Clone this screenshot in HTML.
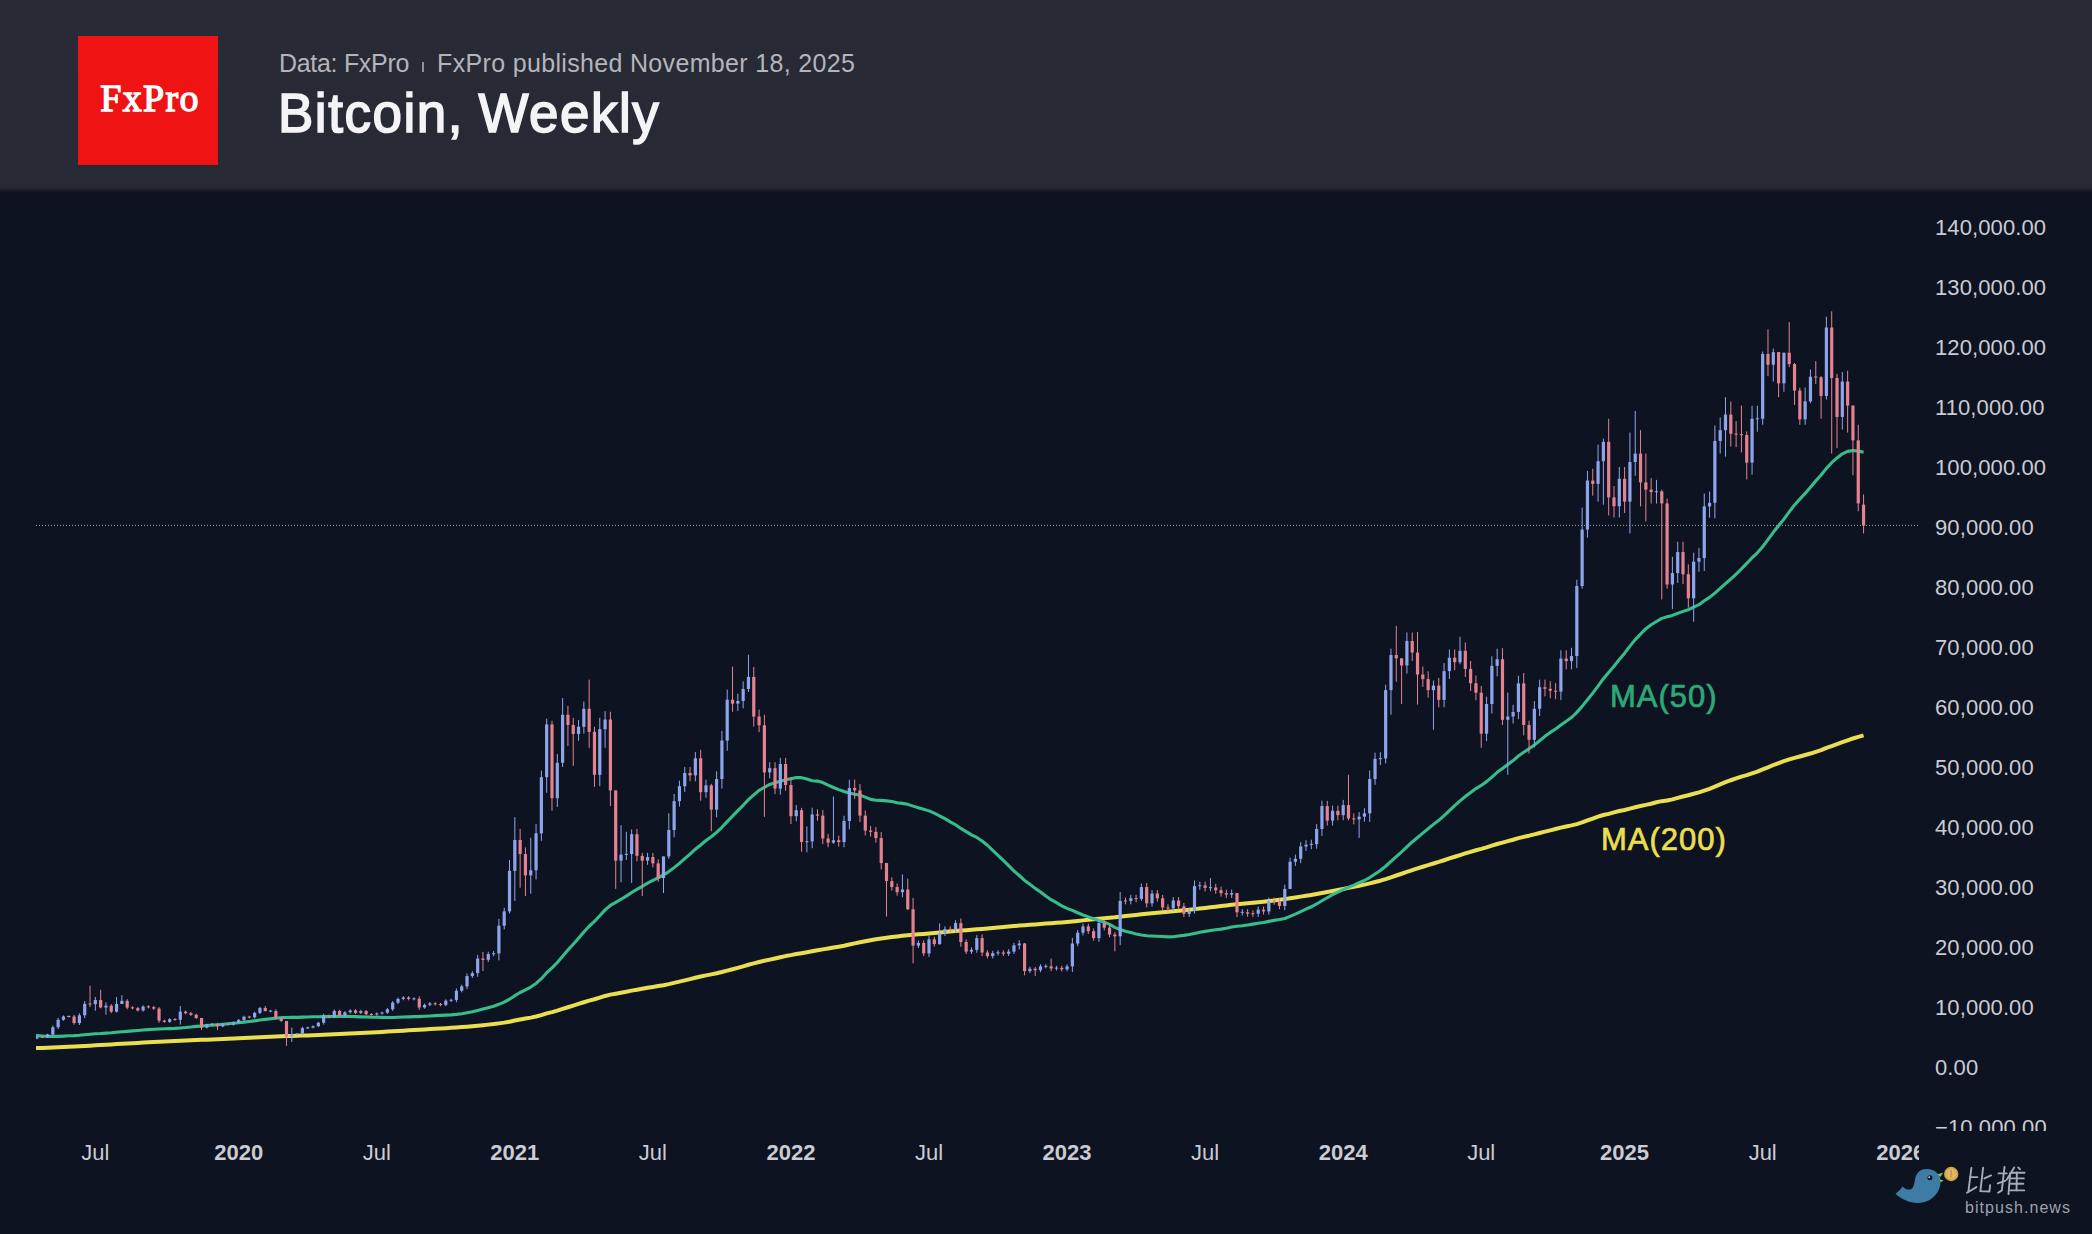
<!DOCTYPE html>
<html><head><meta charset="utf-8">
<style>
html,body{margin:0;padding:0;}
body{width:2092px;height:1234px;overflow:hidden;background:#0e1322;position:relative;font-family:"Liberation Sans",sans-serif;}
#hdr{position:absolute;left:0;top:0;width:2092px;height:192px;background:linear-gradient(#282a36 0px,#272935 187px,#13151f 192px);}
#shadow{position:absolute;left:0;top:192px;width:2092px;height:6px;background:linear-gradient(#0e1120,#0e1322);}
#logo{position:absolute;left:78px;top:36px;width:140px;height:129px;background:#ef1313;}
#logo span{position:absolute;left:2px;width:140px;top:-2.3px;line-height:129px;text-align:center;color:#fff;font-family:"Liberation Serif",serif;font-weight:normal;font-size:38px;letter-spacing:1.3px;-webkit-text-stroke:1.3px #fff;}
#sub{position:absolute;left:279px;top:47px;font-size:25px;color:#b3b5bc;white-space:nowrap;line-height:32px;}
#sub .sep{display:inline-block;width:28px;height:10px;}
#sep{position:absolute;left:422px;top:62px;width:1.6px;height:10px;background:#8f929a;}
#sub .a{letter-spacing:-0.3px;}
#sub .b{letter-spacing:0.33px;}
#title{position:absolute;left:277.8px;transform:scaleX(0.945);letter-spacing:1.65px;transform-origin:0 0;top:80.8px;font-size:56px;font-weight:normal;word-spacing:-2px;-webkit-text-stroke:1.7px #f4f4f6;color:#f4f4f6;white-space:nowrap;line-height:64px;}
svg{position:absolute;left:0;top:0;}
</style></head><body>
<div id="hdr"></div>
<div id="shadow"></div>
<div id="logo"><span>FxPro</span></div>
<div id="sub"><span class="a">Data: FxPro</span><span class="sep"></span><span class="b">FxPro published November 18, 2025</span></div>
<div id="sep"></div>
<div id="title">Bitcoin, Weekly</div>
<svg width="2092" height="1234" viewBox="0 0 2092 1234">
<defs>
<clipPath id="plot"><rect x="36" y="196" width="1882" height="935"/></clipPath>
<clipPath id="pax"><rect x="1918" y="196" width="174" height="935"/></clipPath>
<clipPath id="tax"><rect x="0" y="1131" width="1919" height="60"/></clipPath>
</defs>
<g clip-path="url(#plot)">
<line x1="36" y1="525.4" x2="1918" y2="525.4" stroke="#9a9ea8" stroke-width="1" stroke-dasharray="1 2"/>
<polyline points="36,1048.03 36.92,1048.03 42.23,1047.88 47.54,1047.71 52.85,1047.51 58.16,1047.27 63.47,1047.02 68.78,1046.76 74.09,1046.54 79.40,1046.28 84.71,1045.96 90.02,1045.64 95.33,1045.31 100.64,1045.01 105.95,1044.70 111.26,1044.42 116.57,1044.10 121.88,1043.77 127.19,1043.47 132.50,1043.17 137.81,1042.89 143.12,1042.59 148.43,1042.29 153.74,1042.00 159.05,1041.77 164.36,1041.54 169.67,1041.31 174.98,1041.07 180.29,1040.80 185.60,1040.53 190.91,1040.28 196.22,1040.03 201.53,1039.84 206.84,1039.63 212.15,1039.41 217.46,1039.21 222.77,1039.00 228.08,1038.79 233.39,1038.57 238.70,1038.34 244.01,1038.09 249.32,1037.84 254.63,1037.58 259.94,1037.28 265.25,1037.01 270.56,1036.73 275.87,1036.49 281.18,1036.26 286.49,1036.12 291.80,1035.96 297.11,1035.80 302.42,1035.61 307.73,1035.42 313.04,1035.23 318.35,1035.02 323.66,1034.77 328.97,1034.53 334.28,1034.26 339.59,1034.01 344.90,1033.75 350.21,1033.47 355.52,1033.21 360.83,1032.94 366.14,1032.68 371.45,1032.43 376.76,1032.17 382.07,1031.90 387.38,1031.62 392.69,1031.31 398.00,1030.98 403.31,1030.64 408.62,1030.31 413.93,1029.98 419.24,1029.69 424.55,1029.40 429.86,1029.09 435.17,1028.79 440.48,1028.49 445.79,1028.17 451.10,1027.85 456.41,1027.49 461.72,1027.10 467.03,1026.66 472.34,1026.21 477.65,1025.68 482.96,1025.17 488.27,1024.62 493.58,1024.07 498.89,1023.39 504.20,1022.63 509.51,1021.68 514.82,1020.56 520.13,1019.52 525.44,1018.59 530.75,1017.63 536.06,1016.49 541.37,1015.06 546.68,1013.38 551.99,1012.07 557.30,1010.59 562.61,1008.88 567.92,1007.22 573.23,1005.60 578.54,1003.96 583.85,1002.23 589.16,1000.63 594.47,999.23 599.78,997.61 605.09,995.94 610.40,994.62 615.71,993.66 621.02,992.68 626.33,991.71 631.64,990.65 636.95,989.71 642.26,988.78 647.57,987.84 652.88,986.94 658.19,986.10 663.50,985.17 668.81,984.11 674.12,982.92 679.43,981.67 684.74,980.36 690.05,979.08 695.36,977.73 700.67,976.56 705.98,975.38 711.29,974.38 716.60,973.28 721.91,972.03 727.22,970.63 732.53,969.24 737.84,967.82 743.15,966.32 748.46,964.74 753.77,963.34 759.08,961.96 764.39,960.80 769.70,959.59 775.01,958.47 780.32,957.23 785.63,956.09 790.94,955.10 796.25,954.07 801.56,953.20 806.87,952.32 812.18,951.30 817.49,950.27 822.80,949.36 828.11,948.48 833.42,947.58 838.73,946.71 844.04,945.72 849.35,944.53 854.66,943.37 859.97,942.31 865.28,941.31 870.59,940.31 875.90,939.34 881.21,938.51 886.52,937.77 891.83,937.08 897.14,936.44 902.45,935.75 907.76,935.14 913.07,934.72 918.38,934.30 923.69,933.94 929.00,933.48 934.31,933.05 939.62,932.58 944.93,932.08 950.24,931.58 955.55,931.04 960.86,930.60 966.17,930.20 971.48,929.80 976.79,929.33 982.10,928.92 987.41,928.47 992.72,928.01 998.03,927.54 1003.34,927.06 1008.65,926.60 1013.96,926.10 1019.27,925.59 1024.58,925.21 1029.89,924.81 1035.20,924.42 1040.51,924.01 1045.82,923.61 1051.13,923.22 1056.44,922.82 1061.75,922.44 1067.06,922.04 1072.37,921.54 1077.68,920.97 1082.99,920.38 1088.30,919.85 1093.61,919.35 1098.92,918.78 1104.23,918.23 1109.54,917.73 1114.85,917.27 1120.16,916.68 1125.47,916.10 1130.78,915.51 1136.09,914.89 1141.40,914.25 1146.71,913.75 1152.02,913.19 1157.33,912.68 1162.64,912.18 1167.95,911.70 1173.26,911.14 1178.57,910.65 1183.88,910.22 1189.19,909.73 1194.50,909.12 1199.81,908.50 1205.12,907.90 1210.43,907.31 1215.74,906.71 1221.05,906.08 1226.36,905.44 1231.67,904.81 1236.98,904.27 1242.29,903.78 1247.60,903.28 1252.91,902.77 1258.22,902.23 1263.53,901.65 1268.84,901.03 1274.15,900.42 1279.46,899.82 1284.77,899.14 1290.08,898.33 1295.39,897.51 1300.70,896.64 1306.01,895.78 1311.32,894.92 1316.63,894.00 1321.94,892.99 1327.25,892.04 1332.56,891.03 1337.87,890.02 1343.18,888.94 1348.49,887.85 1353.80,886.78 1359.11,885.69 1364.42,884.62 1369.73,883.37 1375.04,882.04 1380.35,880.71 1385.66,879.09 1390.97,877.28 1396.28,875.52 1401.59,873.77 1406.90,871.91 1412.21,870.12 1417.52,868.43 1422.83,866.77 1428.14,865.15 1433.45,863.50 1438.76,861.93 1444.07,860.23 1449.38,858.47 1454.69,856.77 1460.00,855.03 1465.31,853.38 1470.62,851.80 1475.93,850.27 1481.24,848.91 1486.55,847.40 1491.86,845.71 1497.17,843.99 1502.48,842.56 1507.79,841.14 1513.10,839.70 1518.41,838.17 1523.72,836.86 1529.03,835.68 1534.34,834.35 1539.65,833.00 1544.96,831.64 1550.27,830.33 1555.58,829.02 1560.89,827.68 1566.20,826.43 1571.51,825.36 1576.82,824.09 1582.13,822.46 1587.44,820.49 1592.75,818.56 1598.06,816.70 1603.37,815.02 1608.68,813.89 1613.99,812.43 1619.30,811.01 1624.61,809.94 1629.92,808.63 1635.23,807.22 1640.54,806.00 1645.85,804.91 1651.16,803.71 1656.47,802.29 1661.78,801.16 1667.09,800.49 1672.40,799.40 1677.71,797.86 1683.02,796.45 1688.33,795.18 1693.64,793.81 1698.95,792.32 1704.26,790.55 1709.57,788.78 1714.88,786.67 1720.19,784.43 1725.50,782.22 1730.81,780.24 1736.12,778.40 1741.43,776.65 1746.74,775.10 1752.05,773.31 1757.36,771.62 1762.67,769.42 1767.98,767.32 1773.29,765.03 1778.60,763.06 1783.91,761.12 1789.22,759.44 1794.53,757.87 1799.84,756.46 1805.15,755.03 1810.46,753.53 1815.77,751.83 1821.08,750.18 1826.39,747.96 1831.70,746.01 1837.01,744.15 1842.32,742.24 1847.63,740.34 1852.94,738.46 1858.25,736.93 1863.56,735.34" fill="none" stroke="#e9df50" stroke-width="4" stroke-linejoin="round"/>
<polyline points="36,1035.63 36.92,1035.63 42.23,1036.04 47.54,1036.34 52.85,1036.39 58.16,1036.33 63.47,1036.09 68.78,1035.81 74.09,1035.63 79.40,1035.32 84.71,1034.82 90.02,1034.29 95.33,1033.80 100.64,1033.55 105.95,1033.12 111.26,1032.73 116.57,1032.21 121.88,1031.69 127.19,1031.34 132.50,1030.88 137.81,1030.49 143.12,1030.04 148.43,1029.60 153.74,1029.19 159.05,1028.99 164.36,1028.82 169.67,1028.59 174.98,1028.37 180.29,1027.99 185.60,1027.54 190.91,1026.92 196.22,1026.38 201.53,1025.98 206.84,1025.51 212.15,1025.09 217.46,1024.70 222.77,1024.28 228.08,1023.82 233.39,1023.31 238.70,1022.75 244.01,1022.12 249.32,1021.53 254.63,1020.84 259.94,1020.08 265.25,1019.38 270.56,1018.69 275.87,1018.15 281.18,1017.67 286.49,1017.51 291.80,1017.42 297.11,1017.34 302.42,1017.16 307.73,1016.96 313.04,1016.80 318.35,1016.71 323.66,1016.62 328.97,1016.63 334.28,1016.52 339.59,1016.37 344.90,1016.31 350.21,1016.44 355.52,1016.61 360.83,1016.83 366.14,1016.97 371.45,1017.15 376.76,1017.18 382.07,1017.36 387.38,1017.52 392.69,1017.43 398.00,1017.24 403.31,1016.98 408.62,1016.83 413.93,1016.66 419.24,1016.64 424.55,1016.32 429.86,1015.95 435.17,1015.66 440.48,1015.36 445.79,1015.14 451.10,1014.88 456.41,1014.40 461.72,1013.76 467.03,1012.73 472.34,1011.71 477.65,1010.40 482.96,1009.07 488.27,1007.67 493.58,1006.24 498.89,1004.31 504.20,1002.14 509.51,999.22 514.82,995.67 520.13,992.50 525.44,989.84 530.75,987.03 536.06,983.47 541.37,978.66 546.68,972.73 551.99,967.95 557.30,962.53 562.61,956.15 567.92,950.08 573.23,944.21 578.54,938.22 583.85,931.94 589.16,926.27 594.47,921.43 599.78,915.79 605.09,909.87 610.40,905.44 615.71,902.44 621.02,899.28 626.33,896.14 631.64,892.54 636.95,889.36 642.26,886.31 647.57,883.19 652.88,880.28 658.19,877.78 663.50,874.94 668.81,871.59 674.12,867.63 679.43,863.38 684.74,858.69 690.05,854.10 695.36,849.20 700.67,844.96 705.98,840.56 711.29,836.74 716.60,832.32 721.91,827.32 727.22,821.59 732.53,816.14 737.84,810.70 743.15,805.31 748.46,799.65 753.77,794.90 759.08,790.34 764.39,787.27 769.70,784.40 775.01,782.76 780.32,781.24 785.63,779.86 790.94,778.68 796.25,777.48 801.56,777.65 806.87,778.93 812.18,780.74 817.49,781.08 822.80,782.60 828.11,785.15 833.42,787.46 838.73,789.62 844.04,791.51 849.35,793.09 854.66,794.26 859.97,795.08 865.28,797.11 870.59,799.35 875.90,800.31 881.21,800.36 886.52,800.89 891.83,801.55 897.14,802.70 902.45,803.38 907.76,804.35 913.07,806.12 918.38,807.71 923.69,809.22 929.00,810.88 934.31,813.16 939.62,815.80 944.93,818.66 950.24,821.79 955.55,824.75 960.86,828.42 966.17,831.61 971.48,834.90 976.79,837.47 982.10,840.94 987.41,845.25 992.72,850.32 998.03,855.29 1003.34,860.35 1008.65,865.60 1013.96,870.97 1019.27,875.51 1024.58,880.43 1029.89,884.35 1035.20,888.39 1040.51,891.95 1045.82,895.99 1051.13,899.66 1056.44,902.70 1061.75,905.88 1067.06,908.36 1072.37,910.40 1077.68,912.77 1082.99,914.99 1088.30,916.84 1093.61,918.75 1098.92,920.41 1104.23,922.12 1109.54,924.39 1114.85,927.35 1120.16,929.56 1125.47,931.27 1130.78,932.62 1136.09,933.96 1141.40,934.94 1146.71,935.75 1152.02,935.99 1157.33,936.22 1162.64,936.53 1167.95,936.90 1173.26,936.73 1178.57,935.94 1183.88,935.36 1189.19,934.51 1194.50,933.44 1199.81,932.27 1205.12,931.36 1210.43,930.53 1215.74,929.74 1221.05,929.14 1226.36,928.19 1231.67,927.02 1236.98,926.27 1242.29,925.75 1247.60,924.97 1252.91,924.13 1258.22,923.26 1263.53,922.44 1268.84,921.38 1274.15,920.38 1279.46,919.59 1284.77,918.50 1290.08,916.31 1295.39,914.11 1300.70,911.64 1306.01,909.21 1311.32,906.76 1316.63,903.97 1321.94,900.74 1327.25,897.76 1332.56,894.65 1337.87,892.09 1343.18,889.53 1348.49,887.38 1353.80,885.14 1359.11,882.71 1364.42,880.51 1369.73,877.54 1375.04,874.03 1380.35,870.47 1385.66,866.26 1390.97,861.34 1396.28,856.54 1401.59,851.87 1406.90,846.95 1412.21,841.93 1417.52,837.56 1422.83,833.17 1428.14,828.82 1433.45,824.37 1438.76,820.36 1444.07,815.65 1449.38,810.53 1454.69,805.56 1460.00,800.85 1465.31,796.52 1470.62,792.43 1475.93,788.54 1481.24,785.41 1486.55,781.62 1491.86,777.05 1497.17,772.37 1502.48,768.52 1507.79,764.60 1513.10,760.57 1518.41,755.96 1523.72,752.27 1529.03,748.83 1534.34,744.99 1539.65,740.71 1544.96,736.36 1550.27,732.40 1555.58,729.00 1560.89,724.99 1566.20,721.29 1571.51,717.51 1576.82,712.35 1582.13,706.36 1587.44,699.85 1592.75,693.12 1598.06,686.13 1603.37,678.66 1608.68,672.51 1613.99,666.26 1619.30,659.45 1624.61,653.15 1629.92,646.12 1635.23,639.61 1640.54,634.08 1645.85,628.71 1651.16,624.75 1656.47,621.48 1661.78,618.38 1667.09,616.76 1672.40,615.40 1677.71,613.39 1683.02,611.38 1688.33,609.77 1693.64,607.20 1698.95,604.65 1704.26,600.78 1709.57,597.41 1714.88,593.08 1720.19,588.44 1725.50,583.71 1730.81,579.01 1736.12,574.03 1741.43,568.88 1746.74,563.45 1752.05,557.75 1757.36,552.81 1762.67,546.70 1767.98,539.60 1773.29,532.31 1778.60,525.74 1783.91,519.13 1789.22,511.91 1794.53,504.93 1799.84,499.14 1805.15,493.42 1810.46,487.18 1815.77,480.91 1821.08,475.00 1826.39,468.37 1831.70,462.71 1837.01,457.93 1842.32,453.84 1847.63,451.36 1852.94,450.56 1858.25,450.95 1863.56,452.23" fill="none" stroke="#36bd8b" stroke-width="3.1" stroke-linejoin="round"/>
<rect x="36.42" y="1035.26" width="1" height="4.02" fill="#8ea5ec"/>
<rect x="35.32" y="1037.18" width="3.2" height="1.38" fill="#8ea5ec"/>
<rect x="41.73" y="1036.54" width="1" height="1.39" fill="#e4838f"/>
<rect x="40.63" y="1036.74" width="3.2" height="1.00" fill="#e4838f"/>
<rect x="47.04" y="1033.77" width="1" height="4.23" fill="#8ea5ec"/>
<rect x="45.94" y="1034.48" width="3.2" height="2.82" fill="#8ea5ec"/>
<rect x="52.35" y="1025.47" width="1" height="10.81" fill="#8ea5ec"/>
<rect x="51.25" y="1027.27" width="3.2" height="7.20" fill="#8ea5ec"/>
<rect x="57.66" y="1017.89" width="1" height="11.26" fill="#8ea5ec"/>
<rect x="56.56" y="1019.77" width="3.2" height="7.50" fill="#8ea5ec"/>
<rect x="62.97" y="1015.41" width="1" height="5.34" fill="#8ea5ec"/>
<rect x="61.87" y="1016.47" width="3.2" height="3.30" fill="#8ea5ec"/>
<rect x="68.28" y="1015.41" width="1" height="2.16" fill="#e4838f"/>
<rect x="67.18" y="1016.00" width="3.2" height="1.00" fill="#e4838f"/>
<rect x="73.59" y="1014.89" width="1" height="9.82" fill="#e4838f"/>
<rect x="72.49" y="1016.53" width="3.2" height="6.54" fill="#e4838f"/>
<rect x="78.90" y="1013.31" width="1" height="11.71" fill="#8ea5ec"/>
<rect x="77.80" y="1015.26" width="3.2" height="7.81" fill="#8ea5ec"/>
<rect x="84.21" y="1001.00" width="1" height="17.11" fill="#8ea5ec"/>
<rect x="83.11" y="1003.86" width="3.2" height="11.41" fill="#8ea5ec"/>
<rect x="89.52" y="985.66" width="1" height="21.49" fill="#e4838f"/>
<rect x="88.42" y="1003.51" width="3.2" height="1.00" fill="#e4838f"/>
<rect x="94.83" y="996.95" width="1" height="13.81" fill="#8ea5ec"/>
<rect x="93.73" y="1000.07" width="3.2" height="4.08" fill="#8ea5ec"/>
<rect x="100.14" y="989.75" width="1" height="18.61" fill="#e4838f"/>
<rect x="99.04" y="1000.07" width="3.2" height="7.38" fill="#e4838f"/>
<rect x="105.45" y="1002.36" width="1" height="12.31" fill="#8ea5ec"/>
<rect x="104.35" y="1005.66" width="3.2" height="1.80" fill="#8ea5ec"/>
<rect x="110.76" y="1004.16" width="1" height="9.01" fill="#e4838f"/>
<rect x="109.66" y="1005.66" width="3.2" height="6.00" fill="#e4838f"/>
<rect x="116.07" y="996.95" width="1" height="15.61" fill="#8ea5ec"/>
<rect x="114.97" y="1004.04" width="3.2" height="7.63" fill="#8ea5ec"/>
<rect x="121.38" y="995.15" width="1" height="8.89" fill="#8ea5ec"/>
<rect x="120.28" y="1000.85" width="3.2" height="3.18" fill="#8ea5ec"/>
<rect x="126.69" y="999.17" width="1" height="10.09" fill="#e4838f"/>
<rect x="125.59" y="1000.85" width="3.2" height="6.72" fill="#e4838f"/>
<rect x="132.00" y="1006.35" width="1" height="2.99" fill="#e4838f"/>
<rect x="130.90" y="1007.35" width="3.2" height="1.00" fill="#e4838f"/>
<rect x="137.31" y="1006.90" width="1" height="4.73" fill="#e4838f"/>
<rect x="136.21" y="1008.12" width="3.2" height="2.34" fill="#e4838f"/>
<rect x="142.62" y="1005.31" width="1" height="6.32" fill="#8ea5ec"/>
<rect x="141.52" y="1006.56" width="3.2" height="3.90" fill="#8ea5ec"/>
<rect x="147.93" y="1005.31" width="1" height="3.09" fill="#e4838f"/>
<rect x="146.83" y="1006.36" width="3.2" height="1.00" fill="#e4838f"/>
<rect x="153.24" y="1005.92" width="1" height="3.94" fill="#e4838f"/>
<rect x="152.14" y="1007.16" width="3.2" height="1.50" fill="#e4838f"/>
<rect x="158.55" y="1007.16" width="1" height="15.61" fill="#e4838f"/>
<rect x="157.45" y="1008.66" width="3.2" height="12.01" fill="#e4838f"/>
<rect x="163.86" y="1019.70" width="1" height="3.11" fill="#e4838f"/>
<rect x="162.76" y="1020.67" width="3.2" height="1.20" fill="#e4838f"/>
<rect x="169.17" y="1018.17" width="1" height="4.64" fill="#8ea5ec"/>
<rect x="168.07" y="1019.17" width="3.2" height="2.70" fill="#8ea5ec"/>
<rect x="174.48" y="1018.17" width="1" height="2.58" fill="#e4838f"/>
<rect x="173.38" y="1018.97" width="3.2" height="1.00" fill="#e4838f"/>
<rect x="179.79" y="1005.96" width="1" height="18.61" fill="#8ea5ec"/>
<rect x="178.69" y="1011.66" width="3.2" height="8.11" fill="#8ea5ec"/>
<rect x="185.10" y="1010.52" width="1" height="3.76" fill="#e4838f"/>
<rect x="184.00" y="1011.66" width="3.2" height="1.50" fill="#e4838f"/>
<rect x="190.41" y="1012.05" width="1" height="3.82" fill="#e4838f"/>
<rect x="189.31" y="1013.16" width="3.2" height="1.62" fill="#e4838f"/>
<rect x="195.72" y="1013.70" width="1" height="5.29" fill="#e4838f"/>
<rect x="194.62" y="1014.78" width="3.2" height="3.18" fill="#e4838f"/>
<rect x="201.03" y="1017.97" width="1" height="12.01" fill="#e4838f"/>
<rect x="199.93" y="1017.97" width="3.2" height="9.61" fill="#e4838f"/>
<rect x="206.34" y="1023.68" width="1" height="4.72" fill="#8ea5ec"/>
<rect x="205.24" y="1024.57" width="3.2" height="3.00" fill="#8ea5ec"/>
<rect x="211.65" y="1023.07" width="1" height="2.39" fill="#8ea5ec"/>
<rect x="210.55" y="1023.77" width="3.2" height="1.00" fill="#8ea5ec"/>
<rect x="216.96" y="1022.77" width="1" height="7.20" fill="#e4838f"/>
<rect x="215.86" y="1023.97" width="3.2" height="2.40" fill="#e4838f"/>
<rect x="222.27" y="1023.07" width="1" height="4.15" fill="#8ea5ec"/>
<rect x="221.17" y="1023.97" width="3.2" height="2.40" fill="#8ea5ec"/>
<rect x="227.58" y="1023.07" width="1" height="2.39" fill="#e4838f"/>
<rect x="226.48" y="1023.77" width="3.2" height="1.00" fill="#e4838f"/>
<rect x="232.89" y="1021.54" width="1" height="3.92" fill="#8ea5ec"/>
<rect x="231.79" y="1022.47" width="3.2" height="2.10" fill="#8ea5ec"/>
<rect x="238.20" y="1018.91" width="1" height="4.49" fill="#8ea5ec"/>
<rect x="237.10" y="1019.89" width="3.2" height="2.58" fill="#8ea5ec"/>
<rect x="243.51" y="1015.72" width="1" height="5.15" fill="#8ea5ec"/>
<rect x="242.41" y="1016.77" width="3.2" height="3.12" fill="#8ea5ec"/>
<rect x="248.82" y="1015.72" width="1" height="2.68" fill="#e4838f"/>
<rect x="247.72" y="1016.57" width="3.2" height="1.00" fill="#e4838f"/>
<rect x="254.13" y="1011.74" width="1" height="6.75" fill="#8ea5ec"/>
<rect x="253.03" y="1012.86" width="3.2" height="4.50" fill="#8ea5ec"/>
<rect x="259.44" y="1006.84" width="1" height="7.22" fill="#8ea5ec"/>
<rect x="258.34" y="1008.06" width="3.2" height="4.80" fill="#8ea5ec"/>
<rect x="264.75" y="1005.96" width="1" height="5.40" fill="#e4838f"/>
<rect x="263.65" y="1008.06" width="3.2" height="3.00" fill="#e4838f"/>
<rect x="270.06" y="1009.90" width="1" height="2.32" fill="#8ea5ec"/>
<rect x="268.96" y="1010.56" width="3.2" height="1.00" fill="#8ea5ec"/>
<rect x="275.37" y="1009.26" width="1" height="9.31" fill="#e4838f"/>
<rect x="274.27" y="1011.06" width="3.2" height="6.90" fill="#e4838f"/>
<rect x="280.68" y="1016.95" width="1" height="4.98" fill="#e4838f"/>
<rect x="279.58" y="1017.97" width="3.2" height="3.00" fill="#e4838f"/>
<rect x="285.99" y="1020.97" width="1" height="24.92" fill="#e4838f"/>
<rect x="284.89" y="1020.97" width="3.2" height="15.85" fill="#e4838f"/>
<rect x="291.30" y="1027.57" width="1" height="14.41" fill="#8ea5ec"/>
<rect x="290.20" y="1034.18" width="3.2" height="2.64" fill="#8ea5ec"/>
<rect x="296.61" y="1032.99" width="1" height="1.88" fill="#8ea5ec"/>
<rect x="295.51" y="1033.44" width="3.2" height="1.00" fill="#8ea5ec"/>
<rect x="301.92" y="1026.79" width="1" height="8.29" fill="#8ea5ec"/>
<rect x="300.82" y="1028.17" width="3.2" height="5.52" fill="#8ea5ec"/>
<rect x="307.23" y="1026.74" width="1" height="2.25" fill="#8ea5ec"/>
<rect x="306.13" y="1027.37" width="3.2" height="1.00" fill="#8ea5ec"/>
<rect x="312.54" y="1025.40" width="1" height="3.00" fill="#8ea5ec"/>
<rect x="311.44" y="1026.25" width="3.2" height="1.32" fill="#8ea5ec"/>
<rect x="317.85" y="1021.84" width="1" height="5.28" fill="#8ea5ec"/>
<rect x="316.75" y="1022.77" width="3.2" height="3.48" fill="#8ea5ec"/>
<rect x="323.16" y="1013.76" width="1" height="10.81" fill="#8ea5ec"/>
<rect x="322.06" y="1015.56" width="3.2" height="7.20" fill="#8ea5ec"/>
<rect x="328.47" y="1014.50" width="1" height="3.31" fill="#e4838f"/>
<rect x="327.37" y="1015.56" width="3.2" height="1.20" fill="#e4838f"/>
<rect x="333.78" y="1009.49" width="1" height="8.74" fill="#8ea5ec"/>
<rect x="332.68" y="1010.94" width="3.2" height="5.82" fill="#8ea5ec"/>
<rect x="339.09" y="1009.78" width="1" height="6.94" fill="#e4838f"/>
<rect x="337.99" y="1010.94" width="3.2" height="4.62" fill="#e4838f"/>
<rect x="344.40" y="1011.13" width="1" height="5.51" fill="#8ea5ec"/>
<rect x="343.30" y="1012.26" width="3.2" height="3.30" fill="#8ea5ec"/>
<rect x="349.71" y="1009.29" width="1" height="4.11" fill="#8ea5ec"/>
<rect x="348.61" y="1010.46" width="3.2" height="1.80" fill="#8ea5ec"/>
<rect x="355.02" y="1009.29" width="1" height="4.70" fill="#e4838f"/>
<rect x="353.92" y="1010.46" width="3.2" height="2.40" fill="#e4838f"/>
<rect x="360.33" y="1009.90" width="1" height="4.08" fill="#8ea5ec"/>
<rect x="359.23" y="1011.06" width="3.2" height="1.80" fill="#8ea5ec"/>
<rect x="365.64" y="1009.90" width="1" height="5.44" fill="#e4838f"/>
<rect x="364.54" y="1011.06" width="3.2" height="3.18" fill="#e4838f"/>
<rect x="370.95" y="1013.15" width="1" height="2.48" fill="#e4838f"/>
<rect x="369.85" y="1013.89" width="3.2" height="1.00" fill="#e4838f"/>
<rect x="376.26" y="1012.35" width="1" height="3.28" fill="#8ea5ec"/>
<rect x="375.16" y="1013.46" width="3.2" height="1.08" fill="#8ea5ec"/>
<rect x="381.57" y="1011.56" width="1" height="3.02" fill="#8ea5ec"/>
<rect x="380.47" y="1012.57" width="3.2" height="1.00" fill="#8ea5ec"/>
<rect x="386.88" y="1008.07" width="1" height="5.74" fill="#8ea5ec"/>
<rect x="385.78" y="1009.26" width="3.2" height="3.42" fill="#8ea5ec"/>
<rect x="392.19" y="1001.00" width="1" height="9.91" fill="#8ea5ec"/>
<rect x="391.09" y="1002.66" width="3.2" height="6.60" fill="#8ea5ec"/>
<rect x="397.50" y="997.47" width="1" height="6.51" fill="#8ea5ec"/>
<rect x="396.40" y="998.87" width="3.2" height="3.78" fill="#8ea5ec"/>
<rect x="402.81" y="996.12" width="1" height="4.15" fill="#8ea5ec"/>
<rect x="401.71" y="997.55" width="3.2" height="1.32" fill="#8ea5ec"/>
<rect x="408.12" y="996.12" width="1" height="4.27" fill="#e4838f"/>
<rect x="407.02" y="997.55" width="3.2" height="1.44" fill="#e4838f"/>
<rect x="413.43" y="997.35" width="1" height="3.05" fill="#8ea5ec"/>
<rect x="412.33" y="998.37" width="3.2" height="1.00" fill="#8ea5ec"/>
<rect x="418.74" y="996.41" width="1" height="13.45" fill="#e4838f"/>
<rect x="417.64" y="998.75" width="3.2" height="8.71" fill="#e4838f"/>
<rect x="424.05" y="1003.59" width="1" height="5.09" fill="#8ea5ec"/>
<rect x="422.95" y="1004.88" width="3.2" height="2.58" fill="#8ea5ec"/>
<rect x="429.36" y="1002.13" width="1" height="4.03" fill="#8ea5ec"/>
<rect x="428.26" y="1003.44" width="3.2" height="1.44" fill="#8ea5ec"/>
<rect x="434.67" y="1002.13" width="1" height="3.45" fill="#e4838f"/>
<rect x="433.57" y="1003.36" width="3.2" height="1.00" fill="#e4838f"/>
<rect x="439.98" y="1002.98" width="1" height="3.24" fill="#e4838f"/>
<rect x="438.88" y="1004.11" width="3.2" height="1.00" fill="#e4838f"/>
<rect x="445.29" y="999.31" width="1" height="6.91" fill="#8ea5ec"/>
<rect x="444.19" y="1000.67" width="3.2" height="4.26" fill="#8ea5ec"/>
<rect x="450.60" y="998.57" width="1" height="3.47" fill="#8ea5ec"/>
<rect x="449.50" y="999.81" width="3.2" height="1.00" fill="#8ea5ec"/>
<rect x="455.91" y="988.47" width="1" height="13.78" fill="#8ea5ec"/>
<rect x="454.81" y="990.77" width="3.2" height="9.19" fill="#8ea5ec"/>
<rect x="461.22" y="984.73" width="1" height="7.60" fill="#8ea5ec"/>
<rect x="460.12" y="986.38" width="3.2" height="4.38" fill="#8ea5ec"/>
<rect x="466.53" y="973.48" width="1" height="15.49" fill="#8ea5ec"/>
<rect x="465.43" y="976.06" width="3.2" height="10.33" fill="#8ea5ec"/>
<rect x="471.84" y="971.20" width="1" height="6.72" fill="#8ea5ec"/>
<rect x="470.74" y="973.12" width="3.2" height="2.94" fill="#8ea5ec"/>
<rect x="477.15" y="954.88" width="1" height="21.88" fill="#8ea5ec"/>
<rect x="476.05" y="958.53" width="3.2" height="14.59" fill="#8ea5ec"/>
<rect x="482.46" y="951.92" width="1" height="19.21" fill="#e4838f"/>
<rect x="481.36" y="958.53" width="3.2" height="1.32" fill="#e4838f"/>
<rect x="487.77" y="951.72" width="1" height="10.31" fill="#8ea5ec"/>
<rect x="486.67" y="954.02" width="3.2" height="5.82" fill="#8ea5ec"/>
<rect x="493.08" y="951.11" width="1" height="5.21" fill="#8ea5ec"/>
<rect x="491.98" y="953.22" width="3.2" height="1.00" fill="#8ea5ec"/>
<rect x="498.39" y="918.82" width="1" height="41.52" fill="#8ea5ec"/>
<rect x="497.29" y="925.74" width="3.2" height="27.68" fill="#8ea5ec"/>
<rect x="503.70" y="907.81" width="1" height="21.52" fill="#8ea5ec"/>
<rect x="502.60" y="911.39" width="3.2" height="14.35" fill="#8ea5ec"/>
<rect x="509.01" y="860.06" width="1" height="53.44" fill="#8ea5ec"/>
<rect x="507.91" y="870.87" width="3.2" height="40.53" fill="#8ea5ec"/>
<rect x="514.32" y="817.13" width="1" height="83.76" fill="#8ea5ec"/>
<rect x="513.22" y="839.95" width="3.2" height="30.92" fill="#8ea5ec"/>
<rect x="519.63" y="828.84" width="1" height="58.84" fill="#e4838f"/>
<rect x="518.53" y="839.95" width="3.2" height="14.11" fill="#e4838f"/>
<rect x="524.94" y="847.45" width="1" height="48.63" fill="#e4838f"/>
<rect x="523.84" y="854.06" width="3.2" height="21.31" fill="#e4838f"/>
<rect x="530.25" y="837.85" width="1" height="55.84" fill="#8ea5ec"/>
<rect x="529.15" y="870.27" width="3.2" height="5.10" fill="#8ea5ec"/>
<rect x="535.56" y="824.11" width="1" height="55.39" fill="#8ea5ec"/>
<rect x="534.46" y="833.34" width="3.2" height="36.92" fill="#8ea5ec"/>
<rect x="540.87" y="770.60" width="1" height="70.25" fill="#8ea5ec"/>
<rect x="539.77" y="777.21" width="3.2" height="56.14" fill="#8ea5ec"/>
<rect x="546.18" y="718.67" width="1" height="74.15" fill="#8ea5ec"/>
<rect x="545.08" y="724.37" width="3.2" height="52.84" fill="#8ea5ec"/>
<rect x="551.49" y="720.77" width="1" height="90.06" fill="#e4838f"/>
<rect x="550.39" y="724.37" width="3.2" height="73.85" fill="#e4838f"/>
<rect x="556.80" y="753.94" width="1" height="53.14" fill="#8ea5ec"/>
<rect x="555.70" y="762.80" width="3.2" height="35.42" fill="#8ea5ec"/>
<rect x="562.11" y="697.95" width="1" height="69.05" fill="#8ea5ec"/>
<rect x="561.01" y="714.76" width="3.2" height="48.03" fill="#8ea5ec"/>
<rect x="567.42" y="705.76" width="1" height="40.23" fill="#e4838f"/>
<rect x="566.32" y="714.76" width="3.2" height="10.21" fill="#e4838f"/>
<rect x="572.73" y="717.77" width="1" height="48.03" fill="#e4838f"/>
<rect x="571.63" y="724.97" width="3.2" height="9.01" fill="#e4838f"/>
<rect x="578.04" y="719.93" width="1" height="20.75" fill="#8ea5ec"/>
<rect x="576.94" y="726.77" width="3.2" height="7.20" fill="#8ea5ec"/>
<rect x="583.35" y="701.56" width="1" height="32.06" fill="#8ea5ec"/>
<rect x="582.25" y="708.76" width="3.2" height="18.01" fill="#8ea5ec"/>
<rect x="588.66" y="679.64" width="1" height="68.15" fill="#e4838f"/>
<rect x="587.56" y="708.76" width="3.2" height="23.12" fill="#e4838f"/>
<rect x="593.97" y="726.77" width="1" height="60.04" fill="#e4838f"/>
<rect x="592.87" y="731.88" width="3.2" height="42.93" fill="#e4838f"/>
<rect x="599.28" y="717.77" width="1" height="68.45" fill="#8ea5ec"/>
<rect x="598.18" y="729.17" width="3.2" height="45.63" fill="#8ea5ec"/>
<rect x="604.59" y="711.16" width="1" height="36.62" fill="#8ea5ec"/>
<rect x="603.49" y="719.57" width="3.2" height="9.61" fill="#8ea5ec"/>
<rect x="609.90" y="711.76" width="1" height="94.26" fill="#e4838f"/>
<rect x="608.80" y="719.57" width="3.2" height="70.85" fill="#e4838f"/>
<rect x="615.21" y="790.41" width="1" height="98.47" fill="#e4838f"/>
<rect x="614.11" y="790.41" width="3.2" height="70.25" fill="#e4838f"/>
<rect x="620.52" y="825.24" width="1" height="57.04" fill="#8ea5ec"/>
<rect x="619.42" y="854.66" width="3.2" height="6.00" fill="#8ea5ec"/>
<rect x="625.83" y="831.84" width="1" height="28.22" fill="#8ea5ec"/>
<rect x="624.73" y="853.86" width="3.2" height="1.00" fill="#8ea5ec"/>
<rect x="631.14" y="829.44" width="1" height="53.44" fill="#8ea5ec"/>
<rect x="630.04" y="834.24" width="3.2" height="19.81" fill="#8ea5ec"/>
<rect x="636.45" y="828.84" width="1" height="32.42" fill="#e4838f"/>
<rect x="635.35" y="834.24" width="3.2" height="21.61" fill="#e4838f"/>
<rect x="641.76" y="852.86" width="1" height="43.23" fill="#e4838f"/>
<rect x="640.66" y="855.86" width="3.2" height="4.80" fill="#e4838f"/>
<rect x="647.07" y="852.82" width="1" height="12.01" fill="#8ea5ec"/>
<rect x="645.97" y="857.06" width="3.2" height="3.60" fill="#8ea5ec"/>
<rect x="652.38" y="852.82" width="1" height="14.66" fill="#e4838f"/>
<rect x="651.28" y="857.06" width="3.2" height="6.30" fill="#e4838f"/>
<rect x="657.69" y="859.25" width="1" height="22.64" fill="#e4838f"/>
<rect x="656.59" y="863.36" width="3.2" height="14.71" fill="#e4838f"/>
<rect x="663.00" y="856.46" width="1" height="36.62" fill="#8ea5ec"/>
<rect x="661.90" y="856.46" width="3.2" height="21.61" fill="#8ea5ec"/>
<rect x="668.31" y="813.23" width="1" height="45.63" fill="#8ea5ec"/>
<rect x="667.21" y="830.04" width="3.2" height="26.42" fill="#8ea5ec"/>
<rect x="673.62" y="794.02" width="1" height="43.23" fill="#8ea5ec"/>
<rect x="672.52" y="801.22" width="3.2" height="28.82" fill="#8ea5ec"/>
<rect x="678.93" y="780.56" width="1" height="26.02" fill="#8ea5ec"/>
<rect x="677.83" y="786.21" width="3.2" height="15.01" fill="#8ea5ec"/>
<rect x="684.24" y="767.08" width="1" height="24.78" fill="#8ea5ec"/>
<rect x="683.14" y="773.00" width="3.2" height="13.21" fill="#8ea5ec"/>
<rect x="689.55" y="767.08" width="1" height="14.19" fill="#e4838f"/>
<rect x="688.45" y="773.00" width="3.2" height="2.40" fill="#e4838f"/>
<rect x="694.86" y="752.08" width="1" height="29.20" fill="#8ea5ec"/>
<rect x="693.76" y="758.29" width="3.2" height="17.11" fill="#8ea5ec"/>
<rect x="700.17" y="749.81" width="1" height="50.88" fill="#e4838f"/>
<rect x="699.07" y="758.29" width="3.2" height="33.92" fill="#e4838f"/>
<rect x="705.48" y="779.64" width="1" height="18.11" fill="#8ea5ec"/>
<rect x="704.38" y="785.31" width="3.2" height="6.90" fill="#8ea5ec"/>
<rect x="710.79" y="783.81" width="1" height="47.43" fill="#e4838f"/>
<rect x="709.69" y="785.31" width="3.2" height="24.32" fill="#e4838f"/>
<rect x="716.10" y="771.35" width="1" height="45.93" fill="#8ea5ec"/>
<rect x="715.00" y="779.01" width="3.2" height="30.62" fill="#8ea5ec"/>
<rect x="721.41" y="730.97" width="1" height="57.64" fill="#8ea5ec"/>
<rect x="720.31" y="740.58" width="3.2" height="38.43" fill="#8ea5ec"/>
<rect x="726.72" y="689.55" width="1" height="61.24" fill="#8ea5ec"/>
<rect x="725.62" y="699.75" width="3.2" height="40.83" fill="#8ea5ec"/>
<rect x="732.03" y="666.73" width="1" height="45.03" fill="#e4838f"/>
<rect x="730.93" y="699.75" width="3.2" height="3.90" fill="#e4838f"/>
<rect x="737.34" y="693.59" width="1" height="17.37" fill="#8ea5ec"/>
<rect x="736.24" y="700.95" width="3.2" height="2.70" fill="#8ea5ec"/>
<rect x="742.65" y="681.35" width="1" height="26.97" fill="#8ea5ec"/>
<rect x="741.55" y="688.95" width="3.2" height="12.01" fill="#8ea5ec"/>
<rect x="747.96" y="654.72" width="1" height="37.22" fill="#8ea5ec"/>
<rect x="746.86" y="676.94" width="3.2" height="12.01" fill="#8ea5ec"/>
<rect x="753.27" y="667.03" width="1" height="59.44" fill="#e4838f"/>
<rect x="752.17" y="676.94" width="3.2" height="39.63" fill="#e4838f"/>
<rect x="758.58" y="709.52" width="1" height="22.63" fill="#e4838f"/>
<rect x="757.48" y="716.57" width="3.2" height="8.71" fill="#e4838f"/>
<rect x="763.89" y="714.76" width="1" height="102.07" fill="#e4838f"/>
<rect x="762.79" y="725.27" width="3.2" height="47.13" fill="#e4838f"/>
<rect x="769.20" y="762.18" width="1" height="16.15" fill="#8ea5ec"/>
<rect x="768.10" y="768.20" width="3.2" height="4.20" fill="#8ea5ec"/>
<rect x="774.51" y="762.18" width="1" height="32.04" fill="#e4838f"/>
<rect x="773.41" y="768.20" width="3.2" height="20.41" fill="#e4838f"/>
<rect x="779.82" y="757.84" width="1" height="36.92" fill="#8ea5ec"/>
<rect x="778.72" y="764.00" width="3.2" height="24.62" fill="#8ea5ec"/>
<rect x="785.13" y="757.90" width="1" height="32.79" fill="#e4838f"/>
<rect x="784.03" y="764.00" width="3.2" height="21.01" fill="#e4838f"/>
<rect x="790.44" y="777.21" width="1" height="46.83" fill="#e4838f"/>
<rect x="789.34" y="785.01" width="3.2" height="31.22" fill="#e4838f"/>
<rect x="795.75" y="805.05" width="1" height="16.23" fill="#8ea5ec"/>
<rect x="794.65" y="810.23" width="3.2" height="6.00" fill="#8ea5ec"/>
<rect x="801.06" y="807.83" width="1" height="43.83" fill="#e4838f"/>
<rect x="799.96" y="810.23" width="3.2" height="31.82" fill="#e4838f"/>
<rect x="806.37" y="826.44" width="1" height="25.82" fill="#8ea5ec"/>
<rect x="805.27" y="841.25" width="3.2" height="1.00" fill="#8ea5ec"/>
<rect x="811.68" y="807.68" width="1" height="40.53" fill="#8ea5ec"/>
<rect x="810.58" y="814.43" width="3.2" height="27.02" fill="#8ea5ec"/>
<rect x="816.99" y="809.34" width="1" height="11.36" fill="#e4838f"/>
<rect x="815.89" y="814.43" width="3.2" height="1.20" fill="#e4838f"/>
<rect x="822.30" y="809.93" width="1" height="34.22" fill="#e4838f"/>
<rect x="821.20" y="815.63" width="3.2" height="22.82" fill="#e4838f"/>
<rect x="827.61" y="833.84" width="1" height="13.34" fill="#e4838f"/>
<rect x="826.51" y="838.45" width="3.2" height="4.20" fill="#e4838f"/>
<rect x="832.92" y="796.42" width="1" height="47.43" fill="#8ea5ec"/>
<rect x="831.82" y="840.25" width="3.2" height="2.40" fill="#8ea5ec"/>
<rect x="838.23" y="835.67" width="1" height="10.92" fill="#e4838f"/>
<rect x="837.13" y="840.25" width="3.2" height="1.80" fill="#e4838f"/>
<rect x="843.54" y="815.78" width="1" height="31.52" fill="#8ea5ec"/>
<rect x="842.44" y="821.03" width="3.2" height="21.01" fill="#8ea5ec"/>
<rect x="848.85" y="779.76" width="1" height="49.53" fill="#8ea5ec"/>
<rect x="847.75" y="788.01" width="3.2" height="33.02" fill="#8ea5ec"/>
<rect x="854.16" y="779.61" width="1" height="19.21" fill="#e4838f"/>
<rect x="853.06" y="788.01" width="3.2" height="2.40" fill="#e4838f"/>
<rect x="859.47" y="784.11" width="1" height="37.83" fill="#e4838f"/>
<rect x="858.37" y="790.41" width="3.2" height="25.22" fill="#e4838f"/>
<rect x="864.78" y="810.56" width="1" height="24.84" fill="#e4838f"/>
<rect x="863.68" y="815.63" width="3.2" height="15.01" fill="#e4838f"/>
<rect x="870.09" y="825.87" width="1" height="10.71" fill="#e4838f"/>
<rect x="868.99" y="830.64" width="3.2" height="1.20" fill="#e4838f"/>
<rect x="875.40" y="827.10" width="1" height="15.66" fill="#e4838f"/>
<rect x="874.30" y="831.84" width="3.2" height="6.30" fill="#e4838f"/>
<rect x="880.71" y="831.92" width="1" height="37.37" fill="#e4838f"/>
<rect x="879.61" y="838.15" width="3.2" height="24.92" fill="#e4838f"/>
<rect x="886.02" y="863.06" width="1" height="53.44" fill="#e4838f"/>
<rect x="884.92" y="863.06" width="3.2" height="18.01" fill="#e4838f"/>
<rect x="891.33" y="877.32" width="1" height="13.40" fill="#e4838f"/>
<rect x="890.23" y="881.07" width="3.2" height="6.00" fill="#e4838f"/>
<rect x="896.64" y="883.44" width="1" height="12.28" fill="#e4838f"/>
<rect x="895.54" y="887.08" width="3.2" height="5.10" fill="#e4838f"/>
<rect x="901.95" y="874.47" width="1" height="22.82" fill="#8ea5ec"/>
<rect x="900.85" y="889.48" width="3.2" height="2.70" fill="#8ea5ec"/>
<rect x="907.26" y="878.67" width="1" height="31.22" fill="#e4838f"/>
<rect x="906.16" y="889.48" width="3.2" height="19.81" fill="#e4838f"/>
<rect x="912.57" y="897.89" width="1" height="65.44" fill="#e4838f"/>
<rect x="911.47" y="909.29" width="3.2" height="36.32" fill="#e4838f"/>
<rect x="917.88" y="940.39" width="1" height="7.69" fill="#8ea5ec"/>
<rect x="916.78" y="942.92" width="3.2" height="2.70" fill="#8ea5ec"/>
<rect x="923.19" y="940.29" width="1" height="15.76" fill="#e4838f"/>
<rect x="922.09" y="942.92" width="3.2" height="10.51" fill="#e4838f"/>
<rect x="928.50" y="935.79" width="1" height="21.16" fill="#8ea5ec"/>
<rect x="927.40" y="939.31" width="3.2" height="14.11" fill="#8ea5ec"/>
<rect x="933.81" y="936.72" width="1" height="9.89" fill="#e4838f"/>
<rect x="932.71" y="939.31" width="3.2" height="4.80" fill="#e4838f"/>
<rect x="939.12" y="923.40" width="1" height="21.31" fill="#8ea5ec"/>
<rect x="938.02" y="933.31" width="3.2" height="10.81" fill="#8ea5ec"/>
<rect x="944.43" y="926.31" width="1" height="9.71" fill="#8ea5ec"/>
<rect x="943.33" y="929.11" width="3.2" height="4.20" fill="#8ea5ec"/>
<rect x="949.74" y="926.31" width="1" height="6.18" fill="#e4838f"/>
<rect x="948.64" y="928.91" width="3.2" height="1.00" fill="#e4838f"/>
<rect x="955.05" y="920.18" width="1" height="12.31" fill="#8ea5ec"/>
<rect x="953.95" y="923.10" width="3.2" height="6.60" fill="#8ea5ec"/>
<rect x="960.36" y="918.37" width="1" height="28.37" fill="#e4838f"/>
<rect x="959.26" y="923.10" width="3.2" height="18.91" fill="#e4838f"/>
<rect x="965.67" y="939.48" width="1" height="14.55" fill="#e4838f"/>
<rect x="964.57" y="942.02" width="3.2" height="9.61" fill="#e4838f"/>
<rect x="970.98" y="947.44" width="1" height="6.53" fill="#8ea5ec"/>
<rect x="969.88" y="949.82" width="3.2" height="1.80" fill="#8ea5ec"/>
<rect x="976.29" y="935.19" width="1" height="17.56" fill="#8ea5ec"/>
<rect x="975.19" y="938.11" width="3.2" height="11.71" fill="#8ea5ec"/>
<rect x="981.60" y="934.51" width="1" height="21.61" fill="#e4838f"/>
<rect x="980.50" y="938.11" width="3.2" height="14.41" fill="#e4838f"/>
<rect x="986.91" y="950.19" width="1" height="8.19" fill="#e4838f"/>
<rect x="985.81" y="952.52" width="3.2" height="3.60" fill="#e4838f"/>
<rect x="992.22" y="950.81" width="1" height="7.58" fill="#8ea5ec"/>
<rect x="991.12" y="953.12" width="3.2" height="3.00" fill="#8ea5ec"/>
<rect x="997.53" y="950.19" width="1" height="5.25" fill="#8ea5ec"/>
<rect x="996.43" y="952.32" width="3.2" height="1.00" fill="#8ea5ec"/>
<rect x="1002.84" y="950.19" width="1" height="5.84" fill="#e4838f"/>
<rect x="1001.74" y="952.52" width="3.2" height="1.20" fill="#e4838f"/>
<rect x="1008.15" y="949.27" width="1" height="6.75" fill="#8ea5ec"/>
<rect x="1007.05" y="951.62" width="3.2" height="2.10" fill="#8ea5ec"/>
<rect x="1013.46" y="942.84" width="1" height="11.13" fill="#8ea5ec"/>
<rect x="1012.36" y="945.32" width="3.2" height="6.30" fill="#8ea5ec"/>
<rect x="1018.77" y="940.21" width="1" height="9.31" fill="#8ea5ec"/>
<rect x="1017.67" y="943.52" width="3.2" height="1.80" fill="#8ea5ec"/>
<rect x="1024.08" y="942.92" width="1" height="32.42" fill="#e4838f"/>
<rect x="1022.98" y="943.52" width="3.2" height="27.62" fill="#e4838f"/>
<rect x="1029.39" y="966.73" width="1" height="6.36" fill="#8ea5ec"/>
<rect x="1028.29" y="968.73" width="3.2" height="2.40" fill="#8ea5ec"/>
<rect x="1034.70" y="966.93" width="1" height="9.01" fill="#e4838f"/>
<rect x="1033.60" y="968.73" width="3.2" height="1.50" fill="#e4838f"/>
<rect x="1040.01" y="964.28" width="1" height="7.93" fill="#8ea5ec"/>
<rect x="1038.91" y="966.33" width="3.2" height="3.90" fill="#8ea5ec"/>
<rect x="1045.32" y="964.28" width="1" height="4.11" fill="#8ea5ec"/>
<rect x="1044.22" y="965.83" width="3.2" height="1.00" fill="#8ea5ec"/>
<rect x="1050.63" y="958.53" width="1" height="12.61" fill="#e4838f"/>
<rect x="1049.53" y="966.33" width="3.2" height="2.10" fill="#e4838f"/>
<rect x="1055.94" y="965.81" width="1" height="4.64" fill="#8ea5ec"/>
<rect x="1054.84" y="967.63" width="3.2" height="1.00" fill="#8ea5ec"/>
<rect x="1061.25" y="965.81" width="1" height="5.52" fill="#e4838f"/>
<rect x="1060.15" y="967.83" width="3.2" height="1.50" fill="#e4838f"/>
<rect x="1066.56" y="964.28" width="1" height="7.05" fill="#8ea5ec"/>
<rect x="1065.46" y="966.33" width="3.2" height="3.00" fill="#8ea5ec"/>
<rect x="1071.87" y="937.81" width="1" height="34.22" fill="#8ea5ec"/>
<rect x="1070.77" y="943.52" width="3.2" height="22.82" fill="#8ea5ec"/>
<rect x="1077.18" y="929.98" width="1" height="16.23" fill="#8ea5ec"/>
<rect x="1076.08" y="932.71" width="3.2" height="10.81" fill="#8ea5ec"/>
<rect x="1082.49" y="923.55" width="1" height="11.88" fill="#8ea5ec"/>
<rect x="1081.39" y="926.40" width="3.2" height="6.30" fill="#8ea5ec"/>
<rect x="1087.80" y="923.55" width="1" height="10.41" fill="#e4838f"/>
<rect x="1086.70" y="926.40" width="3.2" height="4.80" fill="#e4838f"/>
<rect x="1093.11" y="928.45" width="1" height="12.28" fill="#e4838f"/>
<rect x="1092.01" y="931.21" width="3.2" height="6.90" fill="#e4838f"/>
<rect x="1098.42" y="919.35" width="1" height="22.51" fill="#8ea5ec"/>
<rect x="1097.32" y="923.10" width="3.2" height="15.01" fill="#8ea5ec"/>
<rect x="1103.73" y="920.18" width="1" height="10.25" fill="#e4838f"/>
<rect x="1102.63" y="923.10" width="3.2" height="4.50" fill="#e4838f"/>
<rect x="1109.04" y="924.78" width="1" height="12.42" fill="#e4838f"/>
<rect x="1107.94" y="927.61" width="3.2" height="6.90" fill="#e4838f"/>
<rect x="1114.35" y="932.11" width="1" height="19.21" fill="#e4838f"/>
<rect x="1113.25" y="934.51" width="3.2" height="1.80" fill="#e4838f"/>
<rect x="1119.66" y="892.03" width="1" height="53.14" fill="#8ea5ec"/>
<rect x="1118.56" y="900.89" width="3.2" height="35.42" fill="#8ea5ec"/>
<rect x="1124.97" y="897.53" width="1" height="6.78" fill="#e4838f"/>
<rect x="1123.87" y="900.42" width="3.2" height="1.00" fill="#e4838f"/>
<rect x="1130.28" y="894.77" width="1" height="9.54" fill="#8ea5ec"/>
<rect x="1129.18" y="898.19" width="3.2" height="2.76" fill="#8ea5ec"/>
<rect x="1135.59" y="894.77" width="1" height="7.54" fill="#e4838f"/>
<rect x="1134.49" y="898.05" width="3.2" height="1.00" fill="#e4838f"/>
<rect x="1140.90" y="883.48" width="1" height="17.41" fill="#8ea5ec"/>
<rect x="1139.80" y="887.08" width="3.2" height="11.83" fill="#8ea5ec"/>
<rect x="1146.21" y="883.01" width="1" height="24.41" fill="#e4838f"/>
<rect x="1145.11" y="887.08" width="3.2" height="16.27" fill="#e4838f"/>
<rect x="1151.52" y="889.99" width="1" height="16.67" fill="#8ea5ec"/>
<rect x="1150.42" y="893.50" width="3.2" height="9.85" fill="#8ea5ec"/>
<rect x="1156.83" y="889.99" width="1" height="11.73" fill="#e4838f"/>
<rect x="1155.73" y="893.50" width="3.2" height="4.80" fill="#e4838f"/>
<rect x="1162.14" y="894.89" width="1" height="15.83" fill="#e4838f"/>
<rect x="1161.04" y="898.31" width="3.2" height="9.19" fill="#e4838f"/>
<rect x="1167.45" y="904.26" width="1" height="7.34" fill="#e4838f"/>
<rect x="1166.35" y="907.44" width="3.2" height="1.00" fill="#e4838f"/>
<rect x="1172.76" y="897.10" width="1" height="14.51" fill="#8ea5ec"/>
<rect x="1171.66" y="900.47" width="3.2" height="7.93" fill="#8ea5ec"/>
<rect x="1178.07" y="897.10" width="1" height="12.45" fill="#e4838f"/>
<rect x="1176.97" y="900.47" width="3.2" height="5.82" fill="#e4838f"/>
<rect x="1183.38" y="903.04" width="1" height="13.86" fill="#e4838f"/>
<rect x="1182.28" y="906.29" width="3.2" height="7.50" fill="#e4838f"/>
<rect x="1188.69" y="907.69" width="1" height="9.21" fill="#8ea5ec"/>
<rect x="1187.59" y="910.85" width="3.2" height="2.94" fill="#8ea5ec"/>
<rect x="1194.00" y="880.47" width="1" height="33.02" fill="#8ea5ec"/>
<rect x="1192.90" y="886.06" width="3.2" height="24.80" fill="#8ea5ec"/>
<rect x="1199.31" y="881.73" width="1" height="7.99" fill="#8ea5ec"/>
<rect x="1198.21" y="885.23" width="3.2" height="1.00" fill="#8ea5ec"/>
<rect x="1204.62" y="881.73" width="1" height="9.76" fill="#e4838f"/>
<rect x="1203.52" y="885.40" width="3.2" height="2.46" fill="#e4838f"/>
<rect x="1209.93" y="878.07" width="1" height="13.21" fill="#8ea5ec"/>
<rect x="1208.83" y="887.18" width="3.2" height="1.00" fill="#8ea5ec"/>
<rect x="1215.24" y="883.87" width="1" height="9.91" fill="#e4838f"/>
<rect x="1214.14" y="887.50" width="3.2" height="2.70" fill="#e4838f"/>
<rect x="1220.55" y="886.62" width="1" height="10.09" fill="#e4838f"/>
<rect x="1219.45" y="890.20" width="3.2" height="3.00" fill="#e4838f"/>
<rect x="1225.86" y="889.69" width="1" height="8.39" fill="#e4838f"/>
<rect x="1224.76" y="893.20" width="3.2" height="1.38" fill="#e4838f"/>
<rect x="1231.17" y="889.56" width="1" height="8.51" fill="#8ea5ec"/>
<rect x="1230.07" y="893.08" width="3.2" height="1.50" fill="#8ea5ec"/>
<rect x="1236.48" y="893.08" width="1" height="24.02" fill="#e4838f"/>
<rect x="1235.38" y="893.08" width="3.2" height="19.21" fill="#e4838f"/>
<rect x="1241.79" y="909.16" width="1" height="6.27" fill="#8ea5ec"/>
<rect x="1240.69" y="911.80" width="3.2" height="1.00" fill="#8ea5ec"/>
<rect x="1247.10" y="909.16" width="1" height="7.62" fill="#e4838f"/>
<rect x="1246.00" y="912.30" width="3.2" height="1.38" fill="#e4838f"/>
<rect x="1252.41" y="910.57" width="1" height="6.33" fill="#e4838f"/>
<rect x="1251.31" y="913.24" width="3.2" height="1.00" fill="#e4838f"/>
<rect x="1257.72" y="906.53" width="1" height="10.37" fill="#8ea5ec"/>
<rect x="1256.62" y="909.71" width="3.2" height="4.08" fill="#8ea5ec"/>
<rect x="1263.03" y="906.53" width="1" height="8.02" fill="#e4838f"/>
<rect x="1261.93" y="909.71" width="3.2" height="1.68" fill="#e4838f"/>
<rect x="1268.34" y="897.65" width="1" height="16.90" fill="#8ea5ec"/>
<rect x="1267.24" y="901.01" width="3.2" height="10.39" fill="#8ea5ec"/>
<rect x="1273.65" y="897.65" width="1" height="7.07" fill="#e4838f"/>
<rect x="1272.55" y="900.69" width="3.2" height="1.00" fill="#e4838f"/>
<rect x="1278.96" y="898.02" width="1" height="11.24" fill="#e4838f"/>
<rect x="1277.86" y="901.37" width="3.2" height="4.62" fill="#e4838f"/>
<rect x="1284.27" y="884.68" width="1" height="25.58" fill="#8ea5ec"/>
<rect x="1283.17" y="888.94" width="3.2" height="17.05" fill="#8ea5ec"/>
<rect x="1289.58" y="857.66" width="1" height="31.28" fill="#8ea5ec"/>
<rect x="1288.48" y="861.74" width="3.2" height="27.20" fill="#8ea5ec"/>
<rect x="1294.89" y="854.60" width="1" height="11.29" fill="#8ea5ec"/>
<rect x="1293.79" y="858.80" width="3.2" height="2.94" fill="#8ea5ec"/>
<rect x="1300.20" y="842.04" width="1" height="20.96" fill="#8ea5ec"/>
<rect x="1299.10" y="846.49" width="3.2" height="12.31" fill="#8ea5ec"/>
<rect x="1305.51" y="840.20" width="1" height="10.74" fill="#8ea5ec"/>
<rect x="1304.41" y="844.69" width="3.2" height="1.80" fill="#8ea5ec"/>
<rect x="1310.82" y="839.65" width="1" height="9.52" fill="#8ea5ec"/>
<rect x="1309.72" y="843.92" width="3.2" height="1.00" fill="#8ea5ec"/>
<rect x="1316.13" y="824.22" width="1" height="24.43" fill="#8ea5ec"/>
<rect x="1315.03" y="829.02" width="3.2" height="15.13" fill="#8ea5ec"/>
<rect x="1321.44" y="800.62" width="1" height="35.42" fill="#8ea5ec"/>
<rect x="1320.34" y="806.08" width="3.2" height="22.94" fill="#8ea5ec"/>
<rect x="1326.75" y="800.83" width="1" height="24.76" fill="#e4838f"/>
<rect x="1325.65" y="806.08" width="3.2" height="14.53" fill="#e4838f"/>
<rect x="1332.06" y="805.60" width="1" height="19.98" fill="#8ea5ec"/>
<rect x="1330.96" y="810.77" width="3.2" height="9.85" fill="#8ea5ec"/>
<rect x="1337.37" y="805.60" width="1" height="14.62" fill="#e4838f"/>
<rect x="1336.27" y="810.77" width="3.2" height="4.38" fill="#e4838f"/>
<rect x="1342.68" y="799.85" width="1" height="20.38" fill="#8ea5ec"/>
<rect x="1341.58" y="805.12" width="3.2" height="10.03" fill="#8ea5ec"/>
<rect x="1347.99" y="774.80" width="1" height="45.63" fill="#e4838f"/>
<rect x="1346.89" y="805.12" width="3.2" height="13.33" fill="#e4838f"/>
<rect x="1353.30" y="813.44" width="1" height="10.90" fill="#e4838f"/>
<rect x="1352.20" y="818.40" width="3.2" height="1.00" fill="#e4838f"/>
<rect x="1358.61" y="812.03" width="1" height="25.82" fill="#8ea5ec"/>
<rect x="1357.51" y="816.65" width="3.2" height="2.70" fill="#8ea5ec"/>
<rect x="1363.92" y="808.24" width="1" height="13.46" fill="#8ea5ec"/>
<rect x="1362.82" y="813.35" width="3.2" height="3.30" fill="#8ea5ec"/>
<rect x="1369.23" y="770.42" width="1" height="51.51" fill="#8ea5ec"/>
<rect x="1368.13" y="779.01" width="3.2" height="34.34" fill="#8ea5ec"/>
<rect x="1374.54" y="752.69" width="1" height="32.12" fill="#8ea5ec"/>
<rect x="1373.44" y="758.89" width="3.2" height="20.11" fill="#8ea5ec"/>
<rect x="1379.85" y="752.20" width="1" height="12.89" fill="#8ea5ec"/>
<rect x="1378.75" y="758.15" width="3.2" height="1.00" fill="#8ea5ec"/>
<rect x="1385.16" y="684.74" width="1" height="78.65" fill="#8ea5ec"/>
<rect x="1384.06" y="690.09" width="3.2" height="68.33" fill="#8ea5ec"/>
<rect x="1390.47" y="648.72" width="1" height="66.04" fill="#8ea5ec"/>
<rect x="1389.37" y="655.02" width="3.2" height="35.06" fill="#8ea5ec"/>
<rect x="1395.78" y="625.90" width="1" height="55.84" fill="#e4838f"/>
<rect x="1394.68" y="655.02" width="3.2" height="3.30" fill="#e4838f"/>
<rect x="1401.09" y="658.33" width="1" height="45.63" fill="#e4838f"/>
<rect x="1399.99" y="658.33" width="3.2" height="7.14" fill="#e4838f"/>
<rect x="1406.40" y="632.48" width="1" height="41.07" fill="#8ea5ec"/>
<rect x="1405.30" y="641.03" width="3.2" height="24.44" fill="#8ea5ec"/>
<rect x="1411.71" y="632.48" width="1" height="28.42" fill="#e4838f"/>
<rect x="1410.61" y="641.03" width="3.2" height="11.53" fill="#e4838f"/>
<rect x="1417.02" y="631.91" width="1" height="72.65" fill="#e4838f"/>
<rect x="1415.92" y="652.56" width="3.2" height="21.97" fill="#e4838f"/>
<rect x="1422.33" y="666.65" width="1" height="20.25" fill="#e4838f"/>
<rect x="1421.23" y="674.54" width="3.2" height="4.56" fill="#e4838f"/>
<rect x="1427.64" y="671.30" width="1" height="26.42" fill="#e4838f"/>
<rect x="1426.54" y="679.10" width="3.2" height="11.05" fill="#e4838f"/>
<rect x="1432.95" y="680.54" width="1" height="49.23" fill="#8ea5ec"/>
<rect x="1431.85" y="685.58" width="3.2" height="4.56" fill="#8ea5ec"/>
<rect x="1438.26" y="677.92" width="1" height="29.34" fill="#e4838f"/>
<rect x="1437.16" y="685.58" width="3.2" height="14.29" fill="#e4838f"/>
<rect x="1443.57" y="663.16" width="1" height="44.10" fill="#8ea5ec"/>
<rect x="1442.47" y="671.11" width="3.2" height="28.76" fill="#8ea5ec"/>
<rect x="1448.88" y="649.50" width="1" height="29.57" fill="#8ea5ec"/>
<rect x="1447.78" y="657.73" width="3.2" height="13.39" fill="#8ea5ec"/>
<rect x="1454.19" y="649.50" width="1" height="20.86" fill="#e4838f"/>
<rect x="1453.09" y="657.73" width="3.2" height="4.50" fill="#e4838f"/>
<rect x="1459.50" y="636.71" width="1" height="27.62" fill="#8ea5ec"/>
<rect x="1458.40" y="650.82" width="3.2" height="11.41" fill="#8ea5ec"/>
<rect x="1464.81" y="642.46" width="1" height="34.44" fill="#e4838f"/>
<rect x="1463.71" y="650.82" width="3.2" height="18.07" fill="#e4838f"/>
<rect x="1470.12" y="660.89" width="1" height="30.07" fill="#e4838f"/>
<rect x="1469.02" y="668.89" width="3.2" height="14.35" fill="#e4838f"/>
<rect x="1475.43" y="675.53" width="1" height="24.73" fill="#e4838f"/>
<rect x="1474.33" y="683.24" width="3.2" height="9.49" fill="#e4838f"/>
<rect x="1480.74" y="685.94" width="1" height="61.84" fill="#e4838f"/>
<rect x="1479.64" y="692.73" width="3.2" height="40.95" fill="#e4838f"/>
<rect x="1486.05" y="696.60" width="1" height="44.49" fill="#8ea5ec"/>
<rect x="1484.95" y="704.02" width="3.2" height="29.66" fill="#8ea5ec"/>
<rect x="1491.36" y="656.29" width="1" height="57.28" fill="#8ea5ec"/>
<rect x="1490.26" y="665.83" width="3.2" height="38.19" fill="#8ea5ec"/>
<rect x="1496.67" y="648.72" width="1" height="27.62" fill="#8ea5ec"/>
<rect x="1495.57" y="659.23" width="3.2" height="6.60" fill="#8ea5ec"/>
<rect x="1501.98" y="648.12" width="1" height="76.85" fill="#e4838f"/>
<rect x="1500.88" y="659.23" width="3.2" height="60.58" fill="#e4838f"/>
<rect x="1507.29" y="692.55" width="1" height="82.25" fill="#8ea5ec"/>
<rect x="1506.19" y="716.51" width="3.2" height="3.30" fill="#8ea5ec"/>
<rect x="1512.60" y="704.80" width="1" height="18.75" fill="#8ea5ec"/>
<rect x="1511.50" y="711.94" width="3.2" height="4.56" fill="#8ea5ec"/>
<rect x="1517.91" y="675.71" width="1" height="43.37" fill="#8ea5ec"/>
<rect x="1516.81" y="683.42" width="3.2" height="28.52" fill="#8ea5ec"/>
<rect x="1523.22" y="673.04" width="1" height="62.32" fill="#e4838f"/>
<rect x="1522.12" y="683.42" width="3.2" height="41.55" fill="#e4838f"/>
<rect x="1528.53" y="720.77" width="1" height="32.72" fill="#e4838f"/>
<rect x="1527.43" y="724.97" width="3.2" height="14.77" fill="#e4838f"/>
<rect x="1533.84" y="701.09" width="1" height="46.38" fill="#8ea5ec"/>
<rect x="1532.74" y="708.82" width="3.2" height="30.92" fill="#8ea5ec"/>
<rect x="1539.15" y="679.63" width="1" height="36.39" fill="#8ea5ec"/>
<rect x="1538.05" y="687.27" width="3.2" height="21.55" fill="#8ea5ec"/>
<rect x="1544.46" y="679.63" width="1" height="16.74" fill="#e4838f"/>
<rect x="1543.36" y="687.27" width="3.2" height="1.50" fill="#e4838f"/>
<rect x="1549.77" y="681.16" width="1" height="17.15" fill="#e4838f"/>
<rect x="1548.67" y="688.77" width="3.2" height="1.98" fill="#e4838f"/>
<rect x="1555.08" y="683.18" width="1" height="16.01" fill="#e4838f"/>
<rect x="1553.98" y="690.70" width="3.2" height="1.00" fill="#e4838f"/>
<rect x="1560.39" y="650.30" width="1" height="49.62" fill="#8ea5ec"/>
<rect x="1559.29" y="658.57" width="3.2" height="33.08" fill="#8ea5ec"/>
<rect x="1565.70" y="650.36" width="1" height="18.95" fill="#e4838f"/>
<rect x="1564.60" y="658.57" width="3.2" height="2.58" fill="#e4838f"/>
<rect x="1571.01" y="647.79" width="1" height="21.52" fill="#8ea5ec"/>
<rect x="1569.91" y="656.04" width="3.2" height="5.10" fill="#8ea5ec"/>
<rect x="1576.32" y="579.67" width="1" height="88.26" fill="#8ea5ec"/>
<rect x="1575.22" y="586.04" width="3.2" height="70.01" fill="#8ea5ec"/>
<rect x="1581.63" y="507.63" width="1" height="81.05" fill="#8ea5ec"/>
<rect x="1580.53" y="529.54" width="3.2" height="56.50" fill="#8ea5ec"/>
<rect x="1586.94" y="471.00" width="1" height="66.64" fill="#8ea5ec"/>
<rect x="1585.84" y="480.55" width="3.2" height="48.99" fill="#8ea5ec"/>
<rect x="1592.25" y="468.78" width="1" height="26.83" fill="#e4838f"/>
<rect x="1591.15" y="480.55" width="3.2" height="3.36" fill="#e4838f"/>
<rect x="1597.56" y="444.58" width="1" height="57.04" fill="#8ea5ec"/>
<rect x="1596.46" y="461.22" width="3.2" height="22.70" fill="#8ea5ec"/>
<rect x="1602.87" y="438.58" width="1" height="66.04" fill="#8ea5ec"/>
<rect x="1601.77" y="441.82" width="3.2" height="19.39" fill="#8ea5ec"/>
<rect x="1608.18" y="418.77" width="1" height="96.66" fill="#e4838f"/>
<rect x="1607.08" y="441.82" width="3.2" height="55.60" fill="#e4838f"/>
<rect x="1613.49" y="485.99" width="1" height="31.51" fill="#e4838f"/>
<rect x="1612.39" y="497.42" width="3.2" height="8.83" fill="#e4838f"/>
<rect x="1618.80" y="467.00" width="1" height="50.50" fill="#8ea5ec"/>
<rect x="1617.70" y="478.81" width="3.2" height="27.44" fill="#8ea5ec"/>
<rect x="1624.11" y="467.00" width="1" height="45.97" fill="#e4838f"/>
<rect x="1623.01" y="478.81" width="3.2" height="22.82" fill="#e4838f"/>
<rect x="1629.42" y="432.58" width="1" height="100.87" fill="#8ea5ec"/>
<rect x="1628.32" y="462.00" width="3.2" height="39.63" fill="#8ea5ec"/>
<rect x="1634.73" y="410.96" width="1" height="64.84" fill="#8ea5ec"/>
<rect x="1633.63" y="453.59" width="3.2" height="8.41" fill="#8ea5ec"/>
<rect x="1640.04" y="430.17" width="1" height="76.25" fill="#e4838f"/>
<rect x="1638.94" y="453.59" width="3.2" height="28.82" fill="#e4838f"/>
<rect x="1645.35" y="453.59" width="1" height="67.85" fill="#e4838f"/>
<rect x="1644.25" y="482.41" width="3.2" height="7.20" fill="#e4838f"/>
<rect x="1650.66" y="478.03" width="1" height="25.53" fill="#e4838f"/>
<rect x="1649.56" y="489.61" width="3.2" height="2.40" fill="#e4838f"/>
<rect x="1655.97" y="479.86" width="1" height="23.69" fill="#8ea5ec"/>
<rect x="1654.87" y="491.22" width="3.2" height="1.00" fill="#8ea5ec"/>
<rect x="1661.28" y="489.61" width="1" height="109.87" fill="#e4838f"/>
<rect x="1660.18" y="491.42" width="3.2" height="12.01" fill="#e4838f"/>
<rect x="1666.59" y="498.62" width="1" height="90.06" fill="#e4838f"/>
<rect x="1665.49" y="503.42" width="3.2" height="81.05" fill="#e4838f"/>
<rect x="1671.90" y="556.86" width="1" height="52.23" fill="#8ea5ec"/>
<rect x="1670.80" y="573.07" width="3.2" height="11.41" fill="#8ea5ec"/>
<rect x="1677.21" y="541.72" width="1" height="41.27" fill="#8ea5ec"/>
<rect x="1676.11" y="552.06" width="3.2" height="21.01" fill="#8ea5ec"/>
<rect x="1682.52" y="541.72" width="1" height="42.45" fill="#e4838f"/>
<rect x="1681.42" y="552.06" width="3.2" height="22.21" fill="#e4838f"/>
<rect x="1687.83" y="564.38" width="1" height="43.32" fill="#e4838f"/>
<rect x="1686.73" y="574.27" width="3.2" height="24.02" fill="#e4838f"/>
<rect x="1693.14" y="552.66" width="1" height="69.05" fill="#8ea5ec"/>
<rect x="1692.04" y="561.66" width="3.2" height="36.62" fill="#8ea5ec"/>
<rect x="1698.45" y="547.84" width="1" height="23.97" fill="#8ea5ec"/>
<rect x="1697.35" y="558.06" width="3.2" height="3.60" fill="#8ea5ec"/>
<rect x="1703.76" y="493.52" width="1" height="77.45" fill="#8ea5ec"/>
<rect x="1702.66" y="506.43" width="3.2" height="51.63" fill="#8ea5ec"/>
<rect x="1709.07" y="491.50" width="1" height="26.18" fill="#8ea5ec"/>
<rect x="1707.97" y="502.82" width="3.2" height="3.60" fill="#8ea5ec"/>
<rect x="1714.38" y="425.52" width="1" height="92.76" fill="#8ea5ec"/>
<rect x="1713.28" y="440.98" width="3.2" height="61.84" fill="#8ea5ec"/>
<rect x="1719.69" y="417.40" width="1" height="36.14" fill="#8ea5ec"/>
<rect x="1718.59" y="430.17" width="3.2" height="10.81" fill="#8ea5ec"/>
<rect x="1725.00" y="397.15" width="1" height="59.44" fill="#8ea5ec"/>
<rect x="1723.90" y="414.56" width="3.2" height="15.61" fill="#8ea5ec"/>
<rect x="1730.31" y="401.48" width="1" height="45.01" fill="#e4838f"/>
<rect x="1729.21" y="414.56" width="3.2" height="19.21" fill="#e4838f"/>
<rect x="1735.62" y="421.07" width="1" height="26.00" fill="#e4838f"/>
<rect x="1734.52" y="433.58" width="3.2" height="1.00" fill="#e4838f"/>
<rect x="1740.93" y="405.56" width="1" height="46.83" fill="#e4838f"/>
<rect x="1739.83" y="434.18" width="3.2" height="1.00" fill="#e4838f"/>
<rect x="1746.24" y="431.38" width="1" height="48.03" fill="#e4838f"/>
<rect x="1745.14" y="434.98" width="3.2" height="27.62" fill="#e4838f"/>
<rect x="1751.55" y="405.76" width="1" height="68.96" fill="#8ea5ec"/>
<rect x="1750.45" y="418.77" width="3.2" height="43.83" fill="#8ea5ec"/>
<rect x="1756.86" y="405.76" width="1" height="26.01" fill="#8ea5ec"/>
<rect x="1755.76" y="418.27" width="3.2" height="1.00" fill="#8ea5ec"/>
<rect x="1762.17" y="351.52" width="1" height="73.25" fill="#8ea5ec"/>
<rect x="1761.07" y="353.92" width="3.2" height="64.84" fill="#8ea5ec"/>
<rect x="1767.48" y="329.31" width="1" height="46.83" fill="#e4838f"/>
<rect x="1766.38" y="353.92" width="3.2" height="10.81" fill="#e4838f"/>
<rect x="1772.79" y="348.52" width="1" height="33.02" fill="#8ea5ec"/>
<rect x="1771.69" y="352.12" width="3.2" height="12.61" fill="#8ea5ec"/>
<rect x="1778.10" y="352.12" width="1" height="45.03" fill="#e4838f"/>
<rect x="1777.00" y="352.12" width="3.2" height="31.22" fill="#e4838f"/>
<rect x="1783.41" y="352.72" width="1" height="39.03" fill="#8ea5ec"/>
<rect x="1782.31" y="352.72" width="3.2" height="30.62" fill="#8ea5ec"/>
<rect x="1788.72" y="322.10" width="1" height="45.03" fill="#e4838f"/>
<rect x="1787.62" y="352.72" width="3.2" height="11.41" fill="#e4838f"/>
<rect x="1794.03" y="362.93" width="1" height="42.03" fill="#e4838f"/>
<rect x="1792.93" y="364.13" width="3.2" height="26.42" fill="#e4838f"/>
<rect x="1799.34" y="387.55" width="1" height="37.22" fill="#e4838f"/>
<rect x="1798.24" y="390.55" width="3.2" height="28.82" fill="#e4838f"/>
<rect x="1804.65" y="387.55" width="1" height="37.22" fill="#8ea5ec"/>
<rect x="1803.55" y="401.36" width="3.2" height="18.01" fill="#8ea5ec"/>
<rect x="1809.96" y="369.53" width="1" height="33.62" fill="#8ea5ec"/>
<rect x="1808.86" y="376.74" width="3.2" height="24.62" fill="#8ea5ec"/>
<rect x="1815.27" y="361.13" width="1" height="22.82" fill="#e4838f"/>
<rect x="1814.17" y="376.54" width="3.2" height="1.00" fill="#e4838f"/>
<rect x="1820.58" y="376.14" width="1" height="42.63" fill="#e4838f"/>
<rect x="1819.48" y="377.34" width="3.2" height="18.61" fill="#e4838f"/>
<rect x="1825.89" y="316.70" width="1" height="82.86" fill="#8ea5ec"/>
<rect x="1824.79" y="327.51" width="3.2" height="68.45" fill="#8ea5ec"/>
<rect x="1831.20" y="311.30" width="1" height="142.29" fill="#e4838f"/>
<rect x="1830.10" y="327.51" width="3.2" height="50.43" fill="#e4838f"/>
<rect x="1836.51" y="373.74" width="1" height="74.45" fill="#e4838f"/>
<rect x="1835.41" y="377.94" width="3.2" height="39.03" fill="#e4838f"/>
<rect x="1841.82" y="371.94" width="1" height="57.64" fill="#8ea5ec"/>
<rect x="1840.72" y="381.54" width="3.2" height="35.42" fill="#8ea5ec"/>
<rect x="1847.13" y="370.73" width="1" height="61.84" fill="#e4838f"/>
<rect x="1846.03" y="381.54" width="3.2" height="24.02" fill="#e4838f"/>
<rect x="1852.44" y="405.56" width="1" height="69.65" fill="#e4838f"/>
<rect x="1851.34" y="405.56" width="3.2" height="34.82" fill="#e4838f"/>
<rect x="1857.75" y="424.77" width="1" height="86.46" fill="#e4838f"/>
<rect x="1856.65" y="440.38" width="3.2" height="63.04" fill="#e4838f"/>
<rect x="1863.06" y="494.42" width="1" height="39.03" fill="#e4838f"/>
<rect x="1861.96" y="504.62" width="3.2" height="21.01" fill="#e4838f"/>
</g>
<g clip-path="url(#pax)" fill="#c9ccd3" font-size="22" letter-spacing="0.1" font-family="Liberation Sans, sans-serif">
<text x="1935" y="234.6">140,000.00</text>
<text x="1935" y="294.7">130,000.00</text>
<text x="1935" y="354.7">120,000.00</text>
<text x="1935" y="414.8">110,000.00</text>
<text x="1935" y="474.8">100,000.00</text>
<text x="1935" y="534.8">90,000.00</text>
<text x="1935" y="594.9">80,000.00</text>
<text x="1935" y="654.9">70,000.00</text>
<text x="1935" y="715.0">60,000.00</text>
<text x="1935" y="775.0">50,000.00</text>
<text x="1935" y="835.0">40,000.00</text>
<text x="1935" y="895.1">30,000.00</text>
<text x="1935" y="955.1">20,000.00</text>
<text x="1935" y="1015.2">10,000.00</text>
<text x="1935" y="1075.2">0.00</text>
<text x="1935" y="1135.2">−10,000.00</text>
</g>
<g clip-path="url(#tax)" fill="#c9ccd3" font-size="22" font-family="Liberation Sans, sans-serif">
<text x="95.3" y="1160" text-anchor="middle">Jul</text>
<text x="238.7" y="1160" text-anchor="middle" font-weight="bold">2020</text>
<text x="376.8" y="1160" text-anchor="middle">Jul</text>
<text x="514.8" y="1160" text-anchor="middle" font-weight="bold">2021</text>
<text x="652.9" y="1160" text-anchor="middle">Jul</text>
<text x="790.9" y="1160" text-anchor="middle" font-weight="bold">2022</text>
<text x="929.0" y="1160" text-anchor="middle">Jul</text>
<text x="1067.1" y="1160" text-anchor="middle" font-weight="bold">2023</text>
<text x="1205.1" y="1160" text-anchor="middle">Jul</text>
<text x="1343.2" y="1160" text-anchor="middle" font-weight="bold">2024</text>
<text x="1481.2" y="1160" text-anchor="middle">Jul</text>
<text x="1624.6" y="1160" text-anchor="middle" font-weight="bold">2025</text>
<text x="1762.7" y="1160" text-anchor="middle">Jul</text>
<text x="1900.7" y="1160" text-anchor="middle" font-weight="bold">2026</text>
</g>
<text x="1610" y="706.5" fill="#2ea877" stroke="#2ea877" stroke-width="0.7" font-size="31" letter-spacing="1" font-family="Liberation Sans, sans-serif">MA(50)</text>
<text x="1601" y="849.8" fill="#e9df50" stroke="#e9df50" stroke-width="0.7" font-size="31" letter-spacing="1" font-family="Liberation Sans, sans-serif">MA(200)</text>

<g id="wm">
<path d="M1895.5,1194 C1898,1191.5 1900.5,1190 1902.6,1186.3 C1904,1188.5 1906,1190 1910.5,1189.5 C1913.5,1188.8 1914.5,1183 1915.2,1178.5 C1916.5,1172 1921,1169 1926.5,1169 C1932,1169 1937,1171.5 1939.5,1176 C1941.5,1180.5 1940.8,1187 1937,1193 C1932.5,1199.5 1925,1203.2 1917.5,1203 C1909,1202.8 1901.5,1199 1895.5,1194 Z" fill="#3d7da5"/>
<path d="M1937.6,1174.2 L1943.2,1172.6 L1940.5,1177 Z M1939.5,1179.5 L1943.5,1180.3 L1941,1182.5 Z" fill="#7cc45a"/>
<circle cx="1929.9" cy="1177.8" r="2.5" fill="#0c1626"/>
<circle cx="1929.2" cy="1177.2" r="0.9" fill="#cfe3f0"/>
<circle cx="1951.2" cy="1174" r="7.2" fill="#d2a04a"/>
<circle cx="1951.2" cy="1174" r="5.4" fill="#dcb860"/>
<path d="M1950.5,1170 L1952,1170 L1951.5,1178 L1950,1178 Z" fill="#c07a3a" opacity="0.6"/>
<g fill="none" stroke="#a5abb7" stroke-width="1.9" stroke-linecap="round">
<path d="M1971.4,1168 L1968.4,1191.4"/>
<path d="M1970,1177.1 L1977.4,1177.1"/>
<path d="M1967,1192.8 L1976.4,1187.1"/>
<path d="M1983.1,1167.7 L1980.4,1191.1 L1989.4,1191.4 L1990.1,1185.1"/>
<path d="M1984.4,1178.4 L1991.1,1175.4"/>
<path d="M1998.5,1173.4 L2006.8,1173.4"/>
<path d="M2004.5,1167 L2001.8,1190.4 L1998.1,1192.8"/>
<path d="M1997.8,1183.4 L2005.5,1180.7"/>
<path d="M2014.2,1167.4 L2006.8,1179.4"/>
<path d="M2010.2,1173 L2008.5,1194.1"/>
<path d="M2016.9,1172.4 L2016.5,1190.4"/>
<path d="M2010.9,1172.7 L2024.6,1172.7 M2011,1178.4 L2023.8,1178.4 M2010.8,1183.7 L2023.3,1183.7 M2010.2,1190.4 L2024.2,1190.4"/>
<path d="M2018.2,1167.4 L2020,1169.3"/>
</g>
<text x="1965" y="1212.7" fill="#9ca2ad" font-size="16" letter-spacing="1.05" font-family="Liberation Sans, sans-serif">bitpush.news</text>
</g>
</svg>
</body></html>
